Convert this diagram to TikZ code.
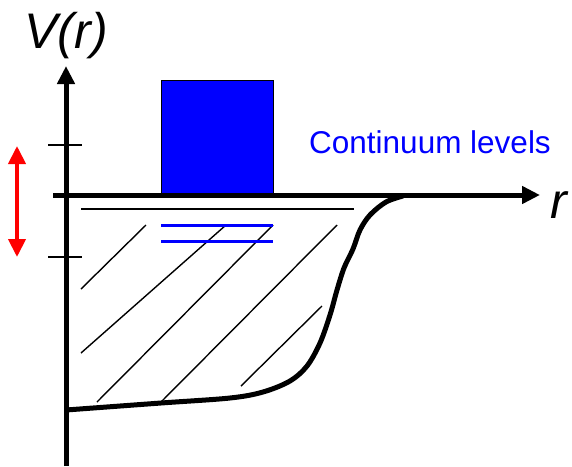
\documentclass[tikz,border=0pt]{standalone}
\usepackage{fontspec}
\setmainfont{Liberation Sans}
\usepackage{tikz}
\usetikzlibrary{arrows.meta,positioning}

\definecolor{pureblue}{RGB}{0,0,255}
\definecolor{purered}{RGB}{255,0,0}

\begin{document}
\begin{tikzpicture}[x=1pt, y=-1pt,
  axis/.style={line width=5pt, -{Triangle[length=18pt,width=17pt]}},
  thin/.style={line width=1.4pt},
  level/.style={line width=3pt, draw=pureblue},
  big/.style={font=\fontsize{50}{56}\selectfont\itshape, inner sep=0pt},
  lbl/.style={font=\fontsize{31.5}{36}\selectfont, text=pureblue, inner sep=0pt}]
\useasboundingbox (0,0) rectangle (572,466);
% continuum block
\draw[fill=pureblue, line width=1pt] (161,80) rectangle (273,195);
% axes
\draw[axis] (66,466) -- (66,66);
\draw[axis] (53,195) -- (540,195);
\node[big, anchor=base] (vr) at (66,48) {V(r)};
\node[big, anchor=base west] (r) at (550,218) {r};
\node[lbl, anchor=base west] (cont) at (309,153) {Continuum levels};
% ticks
\draw[thin] (48,145) -- (82,145);
\draw[thin] (48,257) -- (82,257);
% red double arrow
\draw[line width=4pt, draw=purered, {Triangle[length=18pt,width=17pt,fill=purered]}-{Triangle[length=18pt,width=17pt,fill=purered]}] (17,146) -- (17,257);
% well
\draw[thin] (81,209) -- (354,209);
\draw[thin] (81,289) -- (146,225);
\draw[thin] (81,353) -- (226,225);
\draw[thin] (97,402) -- (273,225);
\draw[thin] (161,402) -- (337,225);
\draw[thin] (241,386) -- (322,306);
% bound levels
\draw[level] (161,225) -- (273,225);
\draw[level] (161,241) -- (273,241);
% potential
\draw[line width=5pt] plot[smooth, tension=0.55] coordinates {(66,410) (161,403) (230,398) (263,392) (290,381) (307,366) (320,343) (330,315) (337,290) (344,268) (353,249) (360,230) (370,215) (386,202) (403,196)};
\end{tikzpicture}
\end{document}
